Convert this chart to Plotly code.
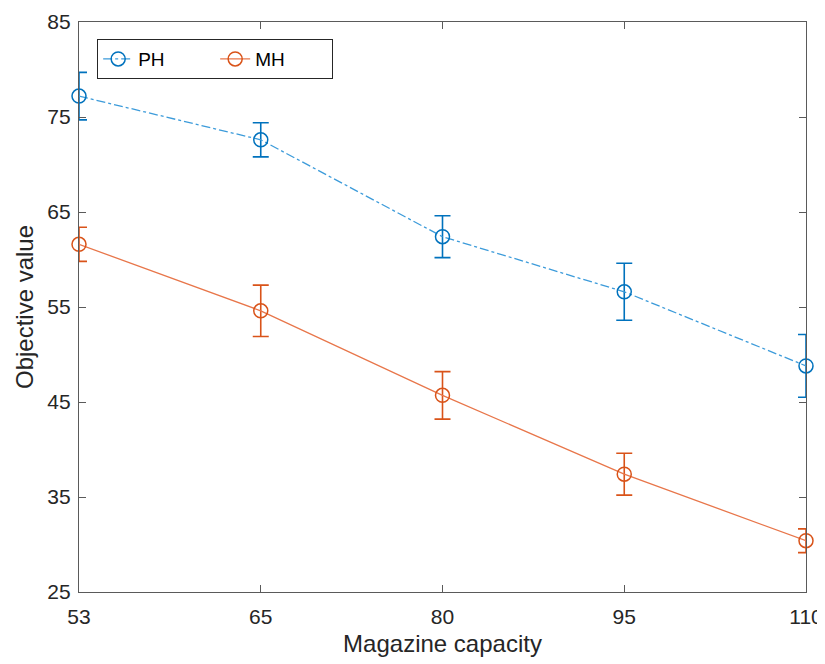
import plotly.graph_objects as go

capacity = ["53", "65", "80", "95", "110"]
ph_mean = [77.2, 72.6, 62.4, 56.6, 48.8]
ph_err = [2.5, 1.8, 2.2, 3.0, 3.3]
mh_mean = [61.6, 54.6, 45.7, 37.4, 30.4]
mh_err = [1.8, 2.7, 2.5, 2.2, 1.25]

FONT = "Liberation Sans, Arial, sans-serif"

fig = go.Figure()
fig.add_trace(go.Scatter(
    x=capacity, y=ph_mean, name="PH", mode="lines+markers",
    line=dict(color="#3C9BDA", width=1.3, dash="dashdot"),
    marker=dict(symbol="circle-open", size=14, color="#0072BD", line=dict(width=1.5, color="#0072BD")),
    error_y=dict(type="data", array=ph_err, visible=True, color="#0072BD", thickness=1.6, width=8),
    cliponaxis=False,
))
fig.add_trace(go.Scatter(
    x=capacity, y=mh_mean, name="MH", mode="lines+markers",
    line=dict(color="#E8764A", width=1.3),
    marker=dict(symbol="circle-open", size=14, color="#D95319", line=dict(width=1.5, color="#D95319")),
    error_y=dict(type="data", array=mh_err, visible=True, color="#D95319", thickness=1.6, width=8),
    cliponaxis=False,
))

axis_common = dict(
    showline=True, linecolor="#5a5a5a", linewidth=1.2, mirror="ticks",
    ticks="inside", ticklen=7, tickwidth=1, tickcolor="#5a5a5a",
    showgrid=False, zeroline=False, automargin=False,
    ticklabeloverflow="allow",
    tickfont=dict(family=FONT, size=21, color="#262626"),
)
fig.update_xaxes(
    type="category", range=[0, 4], ticklabelstandoff=6,
    title=dict(text="Magazine capacity", font=dict(family=FONT, size=24, color="#262626"), standoff=7),
    **axis_common,
)
fig.update_yaxes(
    range=[25, 85], tickvals=[25, 35, 45, 55, 65, 75, 85], ticklabelstandoff=3,
    title=dict(text="Objective value", font=dict(family=FONT, size=24, color="#262626"), standoff=6),
    **axis_common,
)
fig.update_layout(
    width=825, height=664,
    margin=dict(l=71, r=27, t=14, b=80),
    paper_bgcolor="white", plot_bgcolor="white",
    showlegend=True,
    legend=dict(
        orientation="h", x=0.025, y=0.970, xanchor="left", yanchor="top",
        bordercolor="#262626", borderwidth=1, bgcolor="white",
        font=dict(family=FONT, size=19, color="#000000"),
        entrywidth=72, entrywidthmode="pixels",
        tracegroupgap=0,
    ),
)
fig.write_html("out.html")
